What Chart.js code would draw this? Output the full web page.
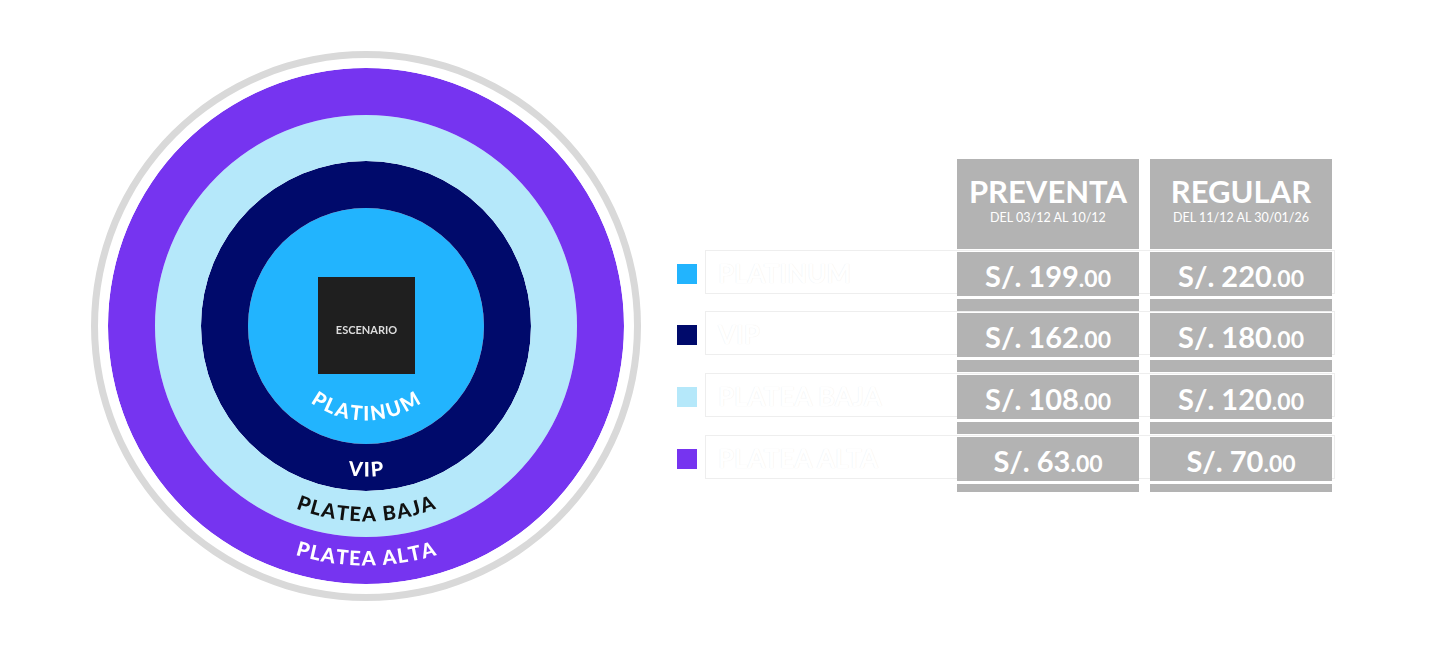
<!DOCTYPE html>
<html><head><meta charset="utf-8">
<script src="https://cdn.jsdelivr.net/npm/chart.js@4"></script>
<style>
body{margin:0;background:#fff;width:1440px;height:652px;position:relative;overflow:hidden;font-family:Lato,"Open Sans",sans-serif}
#wrap{position:absolute;left:91px;top:51px;width:550px;height:550px}
.cell{position:absolute;background:#b3b3b3;color:#fff;text-align:center;font-weight:700}
.lbl{position:absolute;left:705px;width:630px;height:44px;border:1px solid #eee;box-sizing:border-box;color:#fff;font-size:26px;font-weight:700;line-height:44px;padding-left:12px;text-shadow:0 0 1px #e8e8e8}
.sq{position:absolute;left:677px;width:20px;height:20px}
</style></head><body>
<div id="wrap"><canvas id="c" width="550" height="550"></canvas></div>
<div id="tbl"></div>
<script>
const categories=["PLATINUM","VIP","PLATEA BAJA","PLATEA ALTA"];
const preventa=[199,162,108,63];
const regular=[220,180,120,70];
const colors=["#22b4fe","#000a6b","#b5e8fa","#7634f0"];
const columns=["PREVENTA","REGULAR"];
const subtitles=["DEL 03/12 AL 10/12","DEL 11/12 AL 30/01/26"];
// rings outer -> inner: [label, color, thickness]
const ringNames=["borde","espacio","PLATEA ALTA","PLATEA BAJA","VIP","PLATINUM"];
const ringColors=["#d9d9d9","#ffffff","#7634f0","#b5e8fa","#000a6b","#22b4fe"];
const ringWeights=[7,10,47,46,47,118];

const arcText={
 id:'arcText',
 afterDraw(chart){
  const ctx=chart.ctx;const cx=275,cy=275;
  const items=[["PLATINUM",88,"#fff",20,0.115],["VIP",144,"#fff",20,0.07],["PLATEA BAJA",189,"#111",20,0.064],["PLATEA ALTA",233,"#fff",20,0.051]];
  ctx.save();
  items.forEach(([t,r,col,fs,step])=>{
   ctx.font="900 "+fs+"px Lato";ctx.fillStyle=col;ctx.textAlign="center";ctx.textBaseline="middle";
   const w=[...t].map(ch=>ctx.measureText(ch).width+1);
   const tot=w.reduce((a,b)=>a+b,0);
   let a=Math.PI/2+tot/2/r;
   w.forEach((cw,i)=>{
    const ang=a-cw/2/r;
    ctx.save();ctx.translate(cx,cy);ctx.rotate(ang-Math.PI/2);ctx.fillText(t[i],0,r);ctx.restore();
    a-=cw/r;
   });
  });
  ctx.fillStyle="#1f1f1f";ctx.fillRect(227,226,97,97);
  ctx.fillStyle="#ddd";ctx.font="700 11px Lato";ctx.textAlign="center";ctx.textBaseline="middle";
  ctx.fillText("ESCENARIO",275.5,279);
  ctx.restore();
 }
};
new Chart(document.getElementById('c'),{
 type:'pie',
 data:{labels:["zona"],datasets:ringNames.map((n,i)=>({label:n,data:[1],backgroundColor:[ringColors[i]],borderWidth:0,weight:ringWeights[i]}))},
 options:{responsive:false,animation:false,layout:{padding:0},plugins:{legend:{display:false},tooltip:{enabled:false}},events:[]},
 plugins:[arcText]
});
// table
const T=document.getElementById('tbl');
const colX=[957,1150],colW=182;
const rowY=[252,313,375,437],rowH=44;
let h='';
columns.forEach((c,j)=>{
 h+=`<div class="cell" style="left:${colX[j]}px;top:159px;width:${colW}px;height:90px"><div style="font-size:31px;margin-top:16px;line-height:32px">${c}</div><div style="font-size:12.5px;font-weight:400;margin-top:3px">${subtitles[j]}</div></div>`;
});
categories.forEach((cat,i)=>{
 h+=`<div class="lbl" style="top:${rowY[i]-2}px">${cat}</div>`;
 h+=`<div class="sq" style="top:${rowY[i]+12}px;background:${colors[i]}"></div>`;
 [preventa,regular].forEach((arr,j)=>{
  h+=`<div class="cell" style="left:${colX[j]}px;top:${rowY[i]}px;width:${colW}px;height:${rowH}px;line-height:${rowH+4}px;font-size:29px">S/. ${arr[i]}<span style="font-size:23px">.00</span></div>`;
  const sh=i<3?12:8;
  h+=`<div class="cell" style="left:${colX[j]}px;top:${rowY[i]+rowH+3}px;width:${colW}px;height:${sh}px"></div>`;
 });
});
T.innerHTML=h;
</script>
</body></html>
